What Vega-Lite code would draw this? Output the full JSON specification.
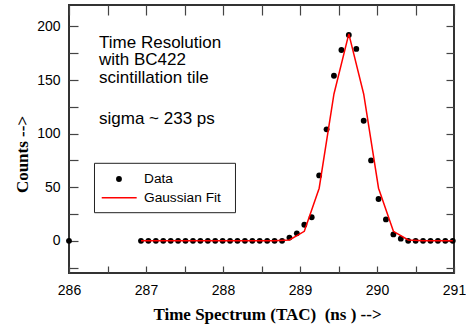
{
  "$schema": "https://vega.github.io/schema/vega-lite/v6.json",
  "width": 385,
  "height": 268,
  "autosize": "none",
  "padding": {"left": 69, "top": 5, "right": 12, "bottom": 55},
  "background": "white",
  "config": {
    "view": {"stroke": "#333333", "strokeWidth": 2},
    "axis": {"grid": false, "domain": false, "labelFont": "Liberation Sans", "labelFontSize": 14, "labelColor": "black", "tickColor": "#444444", "tickWidth": 1.2, "labelFlush": false, "labelOverlap": false}
  },
  "datasets": {
    "counts": [
      {"time": 286, "counts": 0},
      {"time": 286.935, "counts": 0},
      {"time": 287.031, "counts": 0},
      {"time": 287.128, "counts": 0},
      {"time": 287.224, "counts": 0},
      {"time": 287.321, "counts": 0},
      {"time": 287.417, "counts": 0},
      {"time": 287.513, "counts": 0},
      {"time": 287.61, "counts": 0},
      {"time": 287.706, "counts": 0},
      {"time": 287.803, "counts": 0},
      {"time": 287.899, "counts": 0},
      {"time": 287.995, "counts": 0},
      {"time": 288.092, "counts": 0},
      {"time": 288.188, "counts": 0},
      {"time": 288.285, "counts": 0},
      {"time": 288.381, "counts": 0},
      {"time": 288.477, "counts": 0},
      {"time": 288.574, "counts": 0},
      {"time": 288.67, "counts": 0},
      {"time": 288.767, "counts": 0},
      {"time": 288.863, "counts": 3},
      {"time": 288.959, "counts": 7},
      {"time": 289.056, "counts": 15},
      {"time": 289.152, "counts": 22},
      {"time": 289.249, "counts": 61},
      {"time": 289.345, "counts": 104},
      {"time": 289.441, "counts": 154},
      {"time": 289.538, "counts": 178},
      {"time": 289.634, "counts": 192},
      {"time": 289.731, "counts": 179},
      {"time": 289.827, "counts": 112},
      {"time": 289.923, "counts": 75},
      {"time": 290.02, "counts": 39},
      {"time": 290.116, "counts": 20},
      {"time": 290.213, "counts": 6},
      {"time": 290.309, "counts": 2},
      {"time": 290.405, "counts": 0},
      {"time": 290.502, "counts": 0},
      {"time": 290.598, "counts": 0},
      {"time": 290.695, "counts": 0},
      {"time": 290.791, "counts": 0},
      {"time": 290.887, "counts": 0},
      {"time": 290.984, "counts": 0}
    ],
    "fit": [
      {"time": 286.935, "fit": 0},
      {"time": 287.128, "fit": 0},
      {"time": 287.321, "fit": 0},
      {"time": 287.513, "fit": 0},
      {"time": 287.706, "fit": 0},
      {"time": 287.899, "fit": 0},
      {"time": 288.092, "fit": 0},
      {"time": 288.285, "fit": 0},
      {"time": 288.477, "fit": 0},
      {"time": 288.67, "fit": 0},
      {"time": 288.863, "fit": 0.8},
      {"time": 289.056, "fit": 8.9},
      {"time": 289.249, "fit": 49.1},
      {"time": 289.441, "fit": 137},
      {"time": 289.634, "fit": 193},
      {"time": 289.827, "fit": 137},
      {"time": 290.02, "fit": 49.1},
      {"time": 290.213, "fit": 8.9},
      {"time": 290.405, "fit": 0.8},
      {"time": 290.598, "fit": 0},
      {"time": 290.791, "fit": 0},
      {"time": 290.984, "fit": 0}
    ]
  },
  "layer": [
    {
      "data": {"values": [{}]},
      "mark": {"type": "rect", "fill": "white", "stroke": "#222222", "strokeWidth": 1},
      "encoding": {
        "x": {"datum": 286.331, "type": "quantitative", "axis": null},
        "x2": {"datum": 288.162},
        "y": {"datum": 72.33, "type": "quantitative", "axis": null},
        "y2": {"datum": 26.25}
      }
    },
    {
      "data": {"name": "counts"},
      "mark": {"type": "point", "filled": true, "size": 34, "opacity": 1, "color": "black"},
      "encoding": {
        "x": {
          "field": "time", "type": "quantitative",
          "scale": {"domain": [286, 291], "nice": false, "zero": false},
          "axis": {
            "orient": "bottom",
            "values": [286, 286.5, 287, 287.5, 288, 288.5, 289, 289.5, 290, 290.5, 291],
            "format": ".0f",
            "labelExpr": "datum.value % 1 == 0 ? datum.label : ''",
            "tickSize": -7,
            "labelPadding": 17,
            "title": "Time Spectrum (TAC)\u00a0 (ns ) -->",
            "titleFont": "Liberation Serif",
            "titleFontWeight": "bold",
            "titleFontSize": 17,
            "titleColor": "black",
            "titleX": 198,
            "titleY": 46,
            "titleBaseline": "alphabetic",
            "titleAlign": "center"
          }
        },
        "y": {
          "field": "counts", "type": "quantitative",
          "scale": {"domain": [-30, 220], "nice": false, "zero": false},
          "axis": {
            "orient": "left",
            "values": [-25, 0, 25, 50, 75, 100, 125, 150, 175, 200],
            "labelExpr": "datum.value % 50 == 0 ? datum.label : ''",
            "tickSize": -9,
            "labelPadding": 18,
            "title": "Counts -->",
            "titleFont": "Liberation Serif",
            "titleFontWeight": "bold",
            "titleFontSize": 17,
            "titleColor": "black",
            "titleAngle": -90,
            "titleX": -42,
            "titleY": 149,
            "titleBaseline": "alphabetic",
            "titleAlign": "center"
          }
        }
      }
    },
    {
      "data": {"name": "fit"},
      "mark": {"type": "line", "strokeWidth": 1.5, "color": "#ff0000"},
      "encoding": {
        "x": {
          "field": "time", "type": "quantitative",
          "axis": {
            "orient": "top",
            "values": [286, 286.5, 287, 287.5, 288, 288.5, 289, 289.5, 290, 290.5, 291],
            "labels": false,
            "tickSize": -10,
            "title": null
          }
        },
        "y": {
          "field": "fit", "type": "quantitative",
          "axis": {
            "orient": "right",
            "values": [-25, 0, 25, 50, 75, 100, 125, 150, 175, 200],
            "labels": false,
            "tickSize": -8,
            "title": null
          }
        }
      }
    },
    {
      "data": {"values": [{}]},
      "mark": {"type": "point", "filled": true, "size": 34, "opacity": 1, "color": "black"},
      "encoding": {
        "x": {"datum": 286.649, "type": "quantitative", "axis": null},
        "y": {"datum": 57.69, "type": "quantitative", "axis": null}
      }
    },
    {
      "data": {"values": [{}]},
      "mark": {"type": "rule", "strokeWidth": 1.5, "color": "#ff0000"},
      "encoding": {
        "x": {"datum": 286.425, "type": "quantitative", "axis": null},
        "x2": {"datum": 286.879},
        "y": {"datum": 40.24, "type": "quantitative", "axis": null}
      }
    },
    {
      "data": {"values": [{}]},
      "mark": {"type": "text", "align": "left", "baseline": "middle", "font": "Liberation Sans", "fontSize": 13.7, "color": "black", "text": "Data"},
      "encoding": {
        "x": {"datum": 286.974, "type": "quantitative", "axis": null},
        "y": {"datum": 57.69, "type": "quantitative", "axis": null}
      }
    },
    {
      "data": {"values": [{}]},
      "mark": {"type": "text", "align": "left", "baseline": "middle", "font": "Liberation Sans", "fontSize": 13.7, "color": "black", "text": "Gaussian Fit"},
      "encoding": {
        "x": {"datum": 286.974, "type": "quantitative", "axis": null},
        "y": {"datum": 40.24, "type": "quantitative", "axis": null}
      }
    },
    {
      "data": {"values": [{}]},
      "mark": {"type": "text", "align": "left", "baseline": "alphabetic", "font": "Liberation Sans", "fontSize": 17, "lineHeight": 17.8, "color": "black", "text": ["Time Resolution", "with BC422", "scintillation tile"]},
      "encoding": {
        "x": {"datum": 286.39, "type": "quantitative", "axis": null},
        "y": {"datum": 180.2, "type": "quantitative", "axis": null}
      }
    },
    {
      "data": {"values": [{}]},
      "mark": {"type": "text", "align": "left", "baseline": "alphabetic", "font": "Liberation Sans", "fontSize": 17, "color": "black", "text": "sigma ~ 233 ps"},
      "encoding": {
        "x": {"datum": 286.39, "type": "quantitative", "axis": null},
        "y": {"datum": 109.0, "type": "quantitative", "axis": null}
      }
    }
  ],
  "resolve": {"axis": {"x": "independent", "y": "independent"}}
}
